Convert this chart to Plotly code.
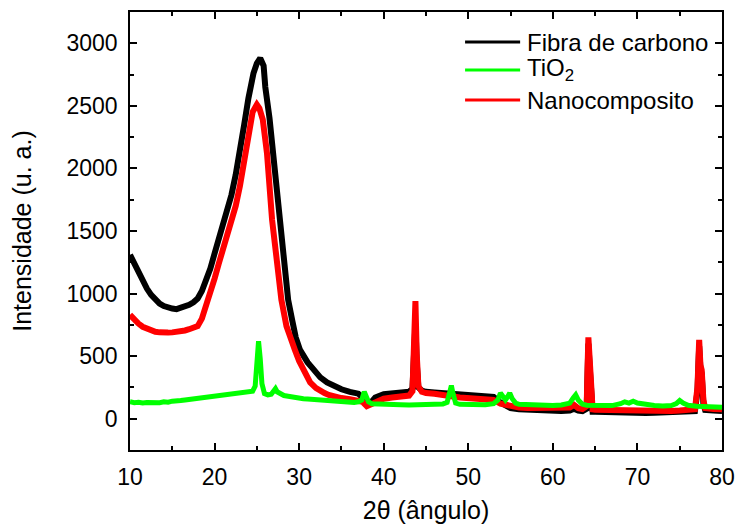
import plotly.graph_objects as go

# ---- data ----
x_fibra = [10.0, 10.5, 11.0, 11.5, 12.0, 12.5, 13.0, 13.5, 14.0, 14.5, 15.0, 15.5, 16.0, 16.5, 17.0, 17.5,
           18.0, 18.5, 19.0, 19.5, 20.0, 20.5, 21.0, 21.5, 22.0, 22.5, 23.0, 23.5, 24.0, 24.2, 24.6, 25.0,
           25.4, 25.8, 26.0, 26.5, 26.9, 27.3, 27.7, 28.2, 28.7, 29.2, 29.6, 30.1, 30.5, 31.0, 31.5, 32.0,
           32.5, 33.3, 34.0, 35.0, 36.0, 37.0, 37.5, 38.0, 38.5, 39.0, 40.0, 41.0, 42.0, 43.0, 43.4, 43.6,
           43.75, 43.9, 44.1, 44.5, 45.0, 46.0, 47.0, 48.0, 49.0, 50.0, 51.0, 52.0, 53.0, 53.8, 54.5, 55.0,
           56.0, 57.0, 58.0, 59.0, 60.0, 61.0, 62.0, 62.5, 63.0, 63.5, 64.0, 64.1, 64.2, 64.35, 64.5, 64.7,
           65.0, 66.0, 67.0, 68.0, 69.0, 70.0, 71.0, 72.0, 73.0, 74.0, 75.0, 76.0, 76.8, 77.1, 77.3, 77.45,
           77.6, 77.8, 78.0, 79.0, 80.0]
y_fibra = [1310, 1240, 1170, 1100, 1040, 990, 950, 920, 900, 885, 880, 875, 885, 895, 910, 930,
           960, 1020, 1100, 1200, 1320, 1430, 1530, 1650, 1790, 1950, 2130, 2350, 2560, 2650, 2760, 2840,
           2880, 2820, 2650, 2400, 2120, 1850, 1590, 1250, 950, 780, 650, 550, 500, 450, 410, 370,
           330, 290, 265, 235, 215, 200, 170, 115, 130, 170, 195, 205, 210, 215, 240, 450,
           760, 450, 250, 225, 215, 210, 205, 200, 195, 190, 190, 185, 175, 130, 100, 85,
           75, 70, 68, 65, 62, 62, 65, 80, 65, 60, 80, 350, 600, 420, 120, 55,
           55, 52, 50, 48, 46, 45, 46, 48, 48, 50, 52, 55, 60, 220, 580, 400,
           360, 120, 70, 65, 62]

x_tio2 = [10.0, 10.5, 11.0, 11.5, 12.0, 12.5, 13.0, 13.5, 14.0, 14.5, 15.0, 15.5, 16.0, 16.5, 17.0, 17.5,
          18.0, 18.5, 19.0, 19.5, 20.0, 20.5, 21.0, 21.5, 22.0, 22.5, 23.0, 23.5, 24.0, 24.5, 24.8, 25.0,
          25.2, 25.4, 25.6, 25.9, 26.3, 26.7, 27.0, 27.2, 27.4, 27.8, 28.2, 28.7, 29.0, 29.5, 30.0, 30.5,
          31.0, 31.5, 32.0, 32.5, 33.0, 33.5, 34.0, 34.5, 35.0, 35.5, 36.0, 36.5, 37.0, 37.4, 37.7, 37.9,
          38.2, 38.6, 39.0, 40.0, 41.0, 42.0, 43.0, 44.0, 45.0, 46.0, 47.0, 47.5, 47.8, 48.0, 48.2, 48.5,
          49.0, 50.0, 51.0, 52.0, 53.0, 53.5, 53.8, 54.1, 54.4, 54.7, 54.9, 55.2, 55.6, 56.0, 57.0, 58.0,
          59.0, 60.0, 61.0, 62.0, 62.4, 62.7, 63.0, 63.5, 64.0, 65.0, 66.0, 67.0, 68.0, 68.5, 69.0, 69.5,
          70.0, 71.0, 72.0, 73.0, 74.0, 74.6, 75.0, 75.4, 76.0, 77.0, 78.0, 79.0, 80.0]
y_tio2 = [135, 128, 132, 125, 130, 127, 133, 128, 135, 132, 140, 138, 145, 150, 155, 160,
          165, 168, 172, 175, 178, 182, 188, 192, 198, 202, 205, 210, 215, 220, 260, 420,
          620, 480, 280, 200, 190, 195, 215, 240, 215, 195, 185, 180, 175, 170, 165, 160,
          158, 155, 152, 150, 148, 145, 142, 140, 138, 135, 132, 130, 135, 150, 215, 190,
          135, 120, 118, 115, 112, 112, 110, 110, 112, 114, 118, 130, 200, 265, 200, 125,
          115, 112, 110, 112, 120, 150, 205, 170, 150, 180, 205, 160, 125, 115, 112, 110,
          108, 106, 110, 125, 165, 190, 150, 115, 108, 105, 103, 105, 120, 135, 125, 140,
          125, 110, 105, 102, 105, 120, 145, 125, 108, 100, 98, 95, 92]

x_nano = [10.0, 10.5, 11.0, 11.5, 12.0, 12.5, 13.0, 13.5, 14.0, 14.5, 15.0, 15.5, 16.0, 16.5, 17.0, 17.5,
          18.0, 18.5, 19.0, 19.5, 20.0, 20.5, 21.0, 21.5, 22.0, 22.5, 23.0, 23.5, 24.0, 24.5, 25.0, 25.3,
          25.7, 26.2, 26.8, 27.3, 27.9, 28.5, 29.0, 29.5, 30.0, 30.5, 31.0, 31.3, 32.0, 32.5, 33.0, 33.5,
          34.0, 35.0, 36.0, 37.0, 37.5, 38.0, 38.5, 39.0, 40.0, 41.0, 42.0, 43.0, 43.4, 43.6, 43.75, 43.9,
          44.1, 44.5, 45.0, 46.0, 47.0, 48.0, 49.0, 50.0, 51.0, 52.0, 53.0, 53.8, 54.5, 55.0, 56.0, 57.0,
          58.0, 59.0, 60.0, 61.0, 62.0, 62.5, 63.0, 63.5, 64.0, 64.1, 64.2, 64.35, 64.5, 64.7, 65.0, 66.0,
          67.0, 68.0, 69.0, 70.0, 71.0, 72.0, 73.0, 74.0, 75.0, 76.0, 76.8, 77.1, 77.3, 77.45, 77.6, 77.8,
          78.0, 79.0, 80.0]
y_nano = [830, 790, 760, 735, 720, 705, 695, 690, 685, 688, 690, 692, 698, 705, 715, 725,
          740, 800, 900, 1005, 1120, 1240, 1350, 1450, 1560, 1700, 1860, 2060, 2300, 2450, 2510, 2480,
          2390, 2120, 1590, 1250, 950, 740, 630, 550, 460, 390, 320, 290, 245, 220, 205, 190,
          180, 165, 155, 145, 135, 100, 115, 140, 160, 170, 175, 185, 220, 500, 940, 520,
          260, 215, 205, 200, 195, 180, 170, 165, 165, 160, 150, 120, 110, 100, 90, 85,
          85, 82, 80, 80, 90, 110, 85, 78, 100, 400, 650, 480, 150, 75, 72, 70,
          65, 62, 60, 58, 60, 60, 62, 62, 65, 68, 75, 250, 630, 430, 390, 150,
          85, 78, 75]

series_names = ["Fibra de carbono", "TiO<sub>2</sub>", "Nanocomposito"]
series_colors = ["#000000", "#00ff00", "#ff0000"]

x_ticks = [10, 20, 30, 40, 50, 60, 70, 80]
y_ticks = [0, 500, 1000, 1500, 2000, 2500, 3000]

FONT = "Liberation Sans, Arial, sans-serif"

fig = go.Figure()
# draw order: black, red, green (green on top)
widths = [6, 5, 6]
for xs, ys, idx in [(x_fibra, y_fibra, 0), (x_nano, y_nano, 2), (x_tio2, y_tio2, 1)]:
    fig.add_trace(go.Scatter(x=xs, y=ys, mode="lines", name=series_names[idx],
                             line=dict(color=series_colors[idx], width=widths[idx]),
                             showlegend=False))

axis_common = dict(showline=True, linecolor="black", linewidth=1.5, mirror="ticks",
                   ticks="inside", ticklen=7, tickwidth=1.5, tickcolor="black",
                   showgrid=False, zeroline=False, automargin=False,
                   tickfont=dict(family=FONT, size=23, color="black"))

fig.update_xaxes(range=[10, 80], tickvals=x_ticks, ticktext=[str(v) for v in x_ticks],
                 minor=dict(dtick=5, tick0=0, ticks="inside", ticklen=4, tickwidth=1.5, tickcolor="black"),
                 title=dict(text="2θ (ângulo)", font=dict(family=FONT, size=25, color="black"), standoff=12),
                 ticklabelstandoff=6, **axis_common)
fig.update_yaxes(range=[-250, 3250], tickvals=y_ticks, ticktext=[str(v) for v in y_ticks],
                 minor=dict(dtick=250, tick0=0, ticks="inside", ticklen=4, tickwidth=1.5, tickcolor="black"),
                 title=dict(text="Intensidade (u. a.)", font=dict(family=FONT, size=25, color="black"), standoff=28),
                 ticklabelstandoff=6, **axis_common)

# manual legend (line samples + labels)
legend_rows = [0.9315, 0.8676, 0.799]
for name, color, yy in zip(series_names, series_colors, legend_rows):
    fig.add_shape(type="line", xref="paper", yref="paper", x0=0.566, x1=0.659, y0=yy, y1=yy,
                  line=dict(color=color, width=3))
    fig.add_annotation(xref="paper", yref="paper", x=0.667, y=yy, text=name, showarrow=False,
                       xanchor="left", yanchor="middle",
                       font=dict(family=FONT, size=24, color="black"))

fig.update_layout(width=737, height=526, margin=dict(l=130, r=15, t=12, b=76),
                  plot_bgcolor="white", paper_bgcolor="white",
                  font=dict(family=FONT, size=23, color="black"))

# remove the browser's default 8px body margin so the figure fills the window exactly
fig.write_html("out.html", config={"displayModeBar": False},
               post_script="document.body.style.margin='0';document.body.style.overflow='hidden';")
